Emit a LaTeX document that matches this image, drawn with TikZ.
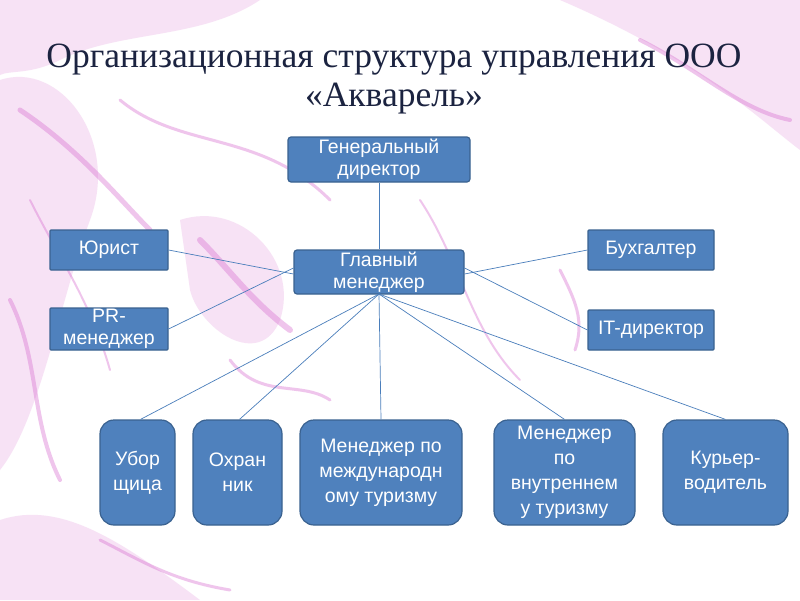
\documentclass[tikz,border=0pt]{standalone}
\usepackage{fontspec}
\setmainfont{Liberation Serif}
\newfontfamily\boxfont{Liberation Sans}
\begin{document}
\begin{tikzpicture}[x=1pt,y=-1pt,
  box/.style={draw=boxedge, fill=boxfill, line width=1.2pt, text=white,
    font=\boxfont\fontsize{19.5}{22}\selectfont, align=center, inner sep=0pt},
  sqbox/.style={box, rounded corners=3pt},
  rbox/.style={box, rounded corners=14pt, font=\boxfont\fontsize{19.5}{25}\selectfont},
  link/.style={draw=linkcol, line width=0.7pt},
  vein/.style={draw=pinkvein, line cap=round, line join=round, opacity=0.4},
  blob/.style={fill=pinkvein, opacity=0.2}]
\definecolor{boxfill}{HTML}{4F81BD}
\definecolor{boxedge}{HTML}{3A6290}
\definecolor{linkcol}{HTML}{4A7EBB}
\definecolor{titlecol}{HTML}{1B2340}
\definecolor{pinkvein}{HTML}{D86FD0}
\useasboundingbox (0,0) rectangle (800,600);
\fill[white] (0,0) rectangle (800,600);
% background watercolor texture (approximation)
\fill[blob] (0,80) .. controls (60,60) and (120,140) .. (90,220) .. controls (60,300) and (40,420) .. (0,470) -- cycle;
\fill[blob] (0,0) -- (260,0) .. controls (200,40) and (120,30) .. (60,60) .. controls (30,75) and (10,70) .. (0,75) -- cycle;
\fill[blob] (180,220) .. controls (240,200) and (300,260) .. (280,320) .. controls (260,370) and (200,330) .. (190,290) -- cycle;
\fill[blob] (560,0) -- (800,0) -- (800,150) .. controls (760,120) and (700,60) .. (560,0);
\fill[blob] (0,520) .. controls (60,500) and (120,540) .. (200,600) -- (0,600) -- cycle;
\draw[vein, line width=5pt] (20,110) .. controls (80,150) and (120,200) .. (150,230);
\draw[vein, line width=4pt] (10,300) .. controls (40,360) and (30,420) .. (60,480);
\draw[vein, line width=6pt] (200,240) .. controls (230,270) and (250,300) .. (290,330);
\draw[vein, line width=3pt] (120,100) .. controls (180,150) and (260,130) .. (330,200);
\draw[vein, line width=3pt] (230,360) .. controls (260,400) and (300,380) .. (330,400);
\draw[vein, line width=4pt] (640,40) .. controls (700,70) and (740,110) .. (790,120);
\draw[vein, line width=2pt] (420,200) .. controls (460,260) and (470,330) .. (520,380);
\draw[vein, line width=3pt] (560,270) .. controls (575,300) and (585,320) .. (575,350);
\draw[vein, line width=2pt] (30,200) .. controls (60,260) and (90,300) .. (110,370);
\draw[vein, line width=3pt] (100,540) .. controls (140,560) and (170,580) .. (230,590);
% title
\node[text=titlecol, font=\fontsize{35.5}{39}\selectfont, align=center] (title) at (394,79)
  {Организационная структура управления ООО\\«Акварель»};
% nodes
\node[sqbox, minimum width=182pt, minimum height=45pt] (gen) at (379,159.5) {Генеральный\\директор};
\node[sqbox, minimum width=170pt, minimum height=44pt] (main) at (379,272) {Главный\\менеджер};
\node[sqbox, rounded corners=1pt, minimum width=118pt, minimum height=40pt] (jur) at (109,250) {Юрист};
\node[sqbox, rounded corners=1pt, minimum width=118pt, minimum height=42pt] (pr) at (109,329) {PR-\\менеджер};
\node[sqbox, rounded corners=1pt, minimum width=126pt, minimum height=40pt] (buh) at (651,250) {Бухгалтер};
\node[sqbox, rounded corners=1pt, minimum width=126pt, minimum height=40pt] (it) at (651,330) {IT-директор};
\node[rbox, minimum width=75pt, minimum height=105pt] (ub) at (137.5,472.5) {Убор\\щица};
\node[rbox, minimum width=89pt, minimum height=105pt] (oh) at (237.5,472.5) {Охран\\ник};
\node[rbox, minimum width=162pt, minimum height=105pt] (mi) at (381,472.5) {Менеджер по\\международн\\ому туризму};
\node[rbox, minimum width=141pt, minimum height=105pt] (mv) at (564.5,472.5) {Менеджер\\по\\внутреннем\\у туризму};
\node[rbox, minimum width=125pt, minimum height=105pt] (kur) at (725.5,472.5) {Курьер-\\водитель};
% connectors
\coordinate (mb) at (379,294);
\draw[link] (gen.south) -- (main.north);
\draw[link] (jur.east) -- ([yshift=-2pt]main.west);
\draw[link] (pr.east) -- ([yshift=4pt]main.west);
\draw[link] (buh.west) -- ([yshift=-2pt]main.east);
\draw[link] (it.west) -- ([yshift=4pt]main.east);
\draw[link] (mb) -- ([xshift=3pt]ub.north);
\draw[link] (mb) -- ([xshift=2pt]oh.north);
\draw[link] (mb) -- (mi.north);
\draw[link] (mb) -- (mv.north);
\draw[link] (mb) -- (kur.north);
\end{tikzpicture}
\end{document}
